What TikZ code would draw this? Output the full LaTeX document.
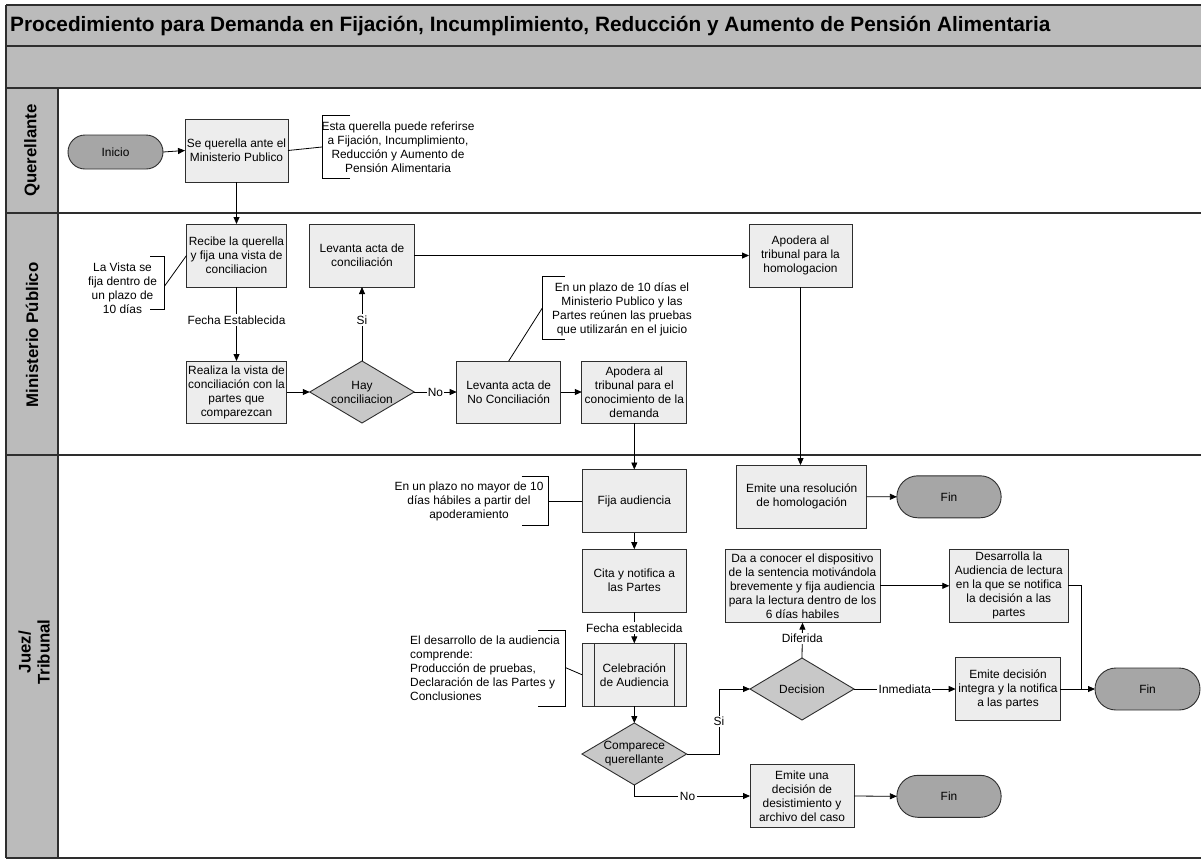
\documentclass[tikz,border=0pt]{standalone}
\usepackage{fontspec}
\setmainfont{Liberation Sans}
\usetikzlibrary{arrows.meta,shapes.geometric}
\definecolor{bandgray}{HTML}{BBBBBB}
\definecolor{boxfill}{HTML}{EDEDED}
\definecolor{decfill}{HTML}{C8C8C8}
\definecolor{termfill}{HTML}{A6A6A6}
\definecolor{edge}{HTML}{2E2E2E}
\tikzset{
  txt/.style={font=\fontsize{11.9}{14}\selectfont, align=center, inner sep=0pt},
  proc/.style={txt, rectangle, draw=edge, line width=0.9pt, fill=boxfill, outer sep=0pt},
  dec/.style={diamond, draw=edge, line width=0.9pt, fill=decfill, inner sep=0pt, outer sep=0pt},
  term/.style={txt, rectangle, draw=edge, line width=0.9pt, fill=termfill, outer sep=0pt},
  flow/.style={line width=0.8pt, -{Triangle[length=7pt,width=6pt]}},
  plain/.style={line width=0.8pt},
  lbl/.style={txt, fill=white, inner sep=1.5pt},
  note/.style={txt},
  bracket/.style={line width=0.8pt},
  lane/.style={line width=2pt, draw=edge},
  lanetitle/.style={font=\fontsize{16.8}{19}\selectfont\bfseries, align=center, rotate=90}
}
\begin{document}
\begin{tikzpicture}[x=1pt, y=-1pt]
\useasboundingbox (0,0) rectangle (1201,860);

% ---- pool: title bands and lane header column ----
\fill[bandgray] (6,5) rectangle (1201,88);
\fill[bandgray] (6,88) rectangle (58,858);
\draw[line width=1.5pt, draw=edge] (6,5) -- (1201,5);
\draw[line width=1.5pt, draw=edge] (6,46) -- (1201,46);
\draw[lane] (6,88) -- (1201,88);
\draw[lane] (6,213) -- (1201,213);
\draw[lane] (6,455) -- (1201,455);
\draw[lane] (6,858) -- (1201,858);
\draw[line width=1.5pt, draw=edge] (6,5) -- (6,858);
\draw[line width=1.2pt, draw=edge] (58,88) -- (58,858);

\node[anchor=west, font=\fontsize{20.8}{24}\selectfont\bfseries, inner sep=0pt] (title) at (10,26)
  {Procedimiento para Demanda en Fijación, Incumplimiento, Reducción y Aumento de Pensión Alimentaria};

\node[lanetitle] (laneq) at (32,150.5) {Querellante};
\node[lanetitle] (lanem) at (32,335) {Ministerio Público};
\node[lanetitle] (lanej) at (34,652) {Juez/\\Tribunal};

% ---- Querellante ----
\node[term, minimum width=95pt, minimum height=34pt, rounded corners=17pt] (inicio) at (115.5,152) {Inicio};
\node[proc, minimum width=103pt, minimum height=63pt] (querella) at (236.5,150.5) {Se querella ante el\\Ministerio Publico};
\node[note] (nq) at (398,147) {Esta querella puede referirse\\a Fijación, Incumplimiento,\\Reducción y Aumento de\\Pensión Alimentaria};
\draw[bracket] (350,115) -- (322,115) -- (322,178) -- (350,178);
\coordinate (nqa) at (322,147);

% ---- Ministerio Publico ----
\node[proc, minimum width=100pt, minimum height=63pt] (recibe) at (236.5,255.5) {Recibe la querella\\y fija una vista de\\conciliacion};
\node[note] (nv) at (122.5,288) {La Vista se\\fija dentro de\\un plazo de\\10 días};
\draw[bracket] (150,256) -- (164.6,256) -- (164.6,309) -- (150,309);
\coordinate (nva) at (164.6,286);
\node[proc, minimum width=100pt, minimum height=62pt] (realiza) at (236.5,392) {Realiza la vista de\\conciliación con la\\partes que\\comparezcan};
\node[dec, minimum width=104.5pt, minimum height=62pt] (hay) at (362,392) {};
\node[txt] (hayt) at (hay) {Hay\\conciliacion};
\node[proc, minimum width=104.5pt, minimum height=63pt] (acta) at (362,255.5) {Levanta acta de\\conciliación};
\node[proc, minimum width=104pt, minimum height=62pt] (noconc) at (508.7,392) {Levanta acta de\\No Conciliación};
\node[proc, minimum width=105pt, minimum height=62pt] (apcon) at (634.3,392) {Apodera al\\tribunal para el\\conocimiento de la\\demanda};
\node[proc, minimum width=103pt, minimum height=63pt] (apohom) at (800.5,255.5) {Apodera al\\tribunal para la\\homologacion};
\node[note] (np) at (622,309) {En un plazo de 10 días el\\Ministerio Publico y las\\Partes reúnen las pruebas\\que utilizarán en el juicio};
\draw[bracket] (565,276.7) -- (542.3,276.7) -- (542.3,339.3) -- (565,339.3);
\coordinate (npa) at (542.3,308);

% ---- Juez / Tribunal ----
\node[proc, minimum width=104.7pt, minimum height=63pt] (fija) at (634.3,501) {Fija audiencia};
\node[note] (nf) at (469,501) {En un plazo no mayor de 10\\días hábiles a partir del\\apoderamiento};
\draw[bracket] (521.7,476.7) -- (548.3,476.7) -- (548.3,525) -- (521.7,525);
\coordinate (nfa) at (548.3,501);
\node[proc, minimum width=104.7pt, minimum height=63pt] (cita) at (634.3,580.7) {Cita y notifica a\\las Partes};
\node[proc, minimum width=104.7pt, minimum height=62.7pt] (cel) at (634.3,674.7) {Celebración\\de Audiencia};
\draw[line width=0.9pt, draw=edge] ([xshift=12pt]cel.north west) -- ([xshift=12pt]cel.south west);
\draw[line width=0.9pt, draw=edge] ([xshift=-12pt]cel.north east) -- ([xshift=-12pt]cel.south east);
\node[note, align=left, anchor=west] (nd) at (410,668.7) {El desarrollo de la audiencia\\comprende:\\Producción de pruebas,\\Declaración de las Partes y\\Conclusiones};
\draw[bracket] (538,630) -- (565.7,630) -- (565.7,706.7) -- (538,706.7);
\coordinate (nda) at (565.7,667.7);
\node[dec, minimum width=104.7pt, minimum height=62pt] (comp) at (634.3,754) {};
\node[txt] (compt) at (comp) {Comparece\\querellante};
\node[dec, minimum width=104pt, minimum height=62pt] (decision) at (802,689) {};
\node[txt] (decisiont) at (decision) {Decision};
\node[proc, minimum width=104pt, minimum height=63pt] (desist) at (802,796) {Emite una\\decisión de\\desistimiento y\\archivo del caso};
\node[term, minimum width=104.3pt, minimum height=42pt, rounded corners=21pt] (fin3) at (949,796.3) {Fin};
\node[proc, minimum width=130pt, minimum height=63.3pt] (resol) at (801.7,496.7) {Emite una resolución\\de homologación};
\node[term, minimum width=104.3pt, minimum height=42pt, rounded corners=21pt] (fin1) at (949,496.8) {Fin};
\node[proc, minimum width=155pt, minimum height=73.7pt] (dacon) at (802.5,585.8) {Da a conocer el dispositivo\\de la sentencia motivándola\\brevemente y fija audiencia\\para la lectura dentro de los\\6 días habiles};
\node[proc, minimum width=119pt, minimum height=73.7pt] (desarr) at (1008.8,585.8) {Desarrolla la\\Audiencia de lectura\\en la que se notifica\\la decisión a las\\partes};
\node[proc, minimum width=104.7pt, minimum height=63pt] (emite) at (1008,689) {Emite decisión\\integra y la notifica\\a las partes};
\node[term, minimum width=105pt, minimum height=42pt, rounded corners=21pt] (fin2) at (1147.5,689) {Fin};
\coordinate (join) at (1081.7,689);

% ---- connectors ----
\draw[flow] (inicio.east) -- (querella.west);
\draw[plain] (querella.east) -- (nqa);
\draw[flow] (querella.south) -- (recibe.north);
\draw[plain] (nva) -- (recibe.west);
\draw[flow] (recibe.south) -- node[lbl, pos=0.45] (lfe) {Fecha Establecida} (realiza.north);
\draw[flow] (realiza.east) -- (hay.west);
\draw[flow] (hay.north) -- node[lbl, pos=0.55] (lsi1) {Si} (acta.south);
\draw[flow] (hay.east) -- node[lbl, pos=0.5, inner sep=0.5pt] (lno1) {No} (noconc.west);
\draw[flow] (noconc.east) -- (apcon.west);
\draw[plain] (npa) -- (noconc.north);
\draw[flow] (acta.east) -- (acta.east -| apohom.west);
\draw[flow] (apohom.south) -- (apohom.south |- resol.north);
\draw[flow] (apcon.south) -- (fija.north);
\draw[plain] (nfa) -- (fija.west);
\draw[flow] (fija.south) -- (cita.north);
\draw[flow] (cita.south) -- node[lbl, pos=0.5] (lfe2) {Fecha establecida} (cel.north);
\draw[plain] (nda) -- (cel.west);
\draw[flow] (cel.south) -- (comp.north);
\draw[flow] (comp.east) -- ++(32.3,0) |- node[lbl, pos=0.25] (lsi2) {Si} (decision.west);
\draw[flow] (comp.south) |- node[lbl, pos=0.73] (lno2) {No} (desist.west);
\draw[flow] (desist.east) -- (fin3.west);
\draw[flow] (resol.east) -- (fin1.west);
\draw[flow] (decision.north) -- node[lbl, pos=0.55] (ldif) {Diferida} (dacon.south);
\draw[flow] (decision.east) -- node[lbl, pos=0.5] (linm) {Inmediata} (emite.west);
\draw[flow] (dacon.east) -- (desarr.west);
\draw[flow] (emite.east) -- (fin2.west);
\draw[plain] (desarr.east) -| (join);
\end{tikzpicture}
\end{document}
